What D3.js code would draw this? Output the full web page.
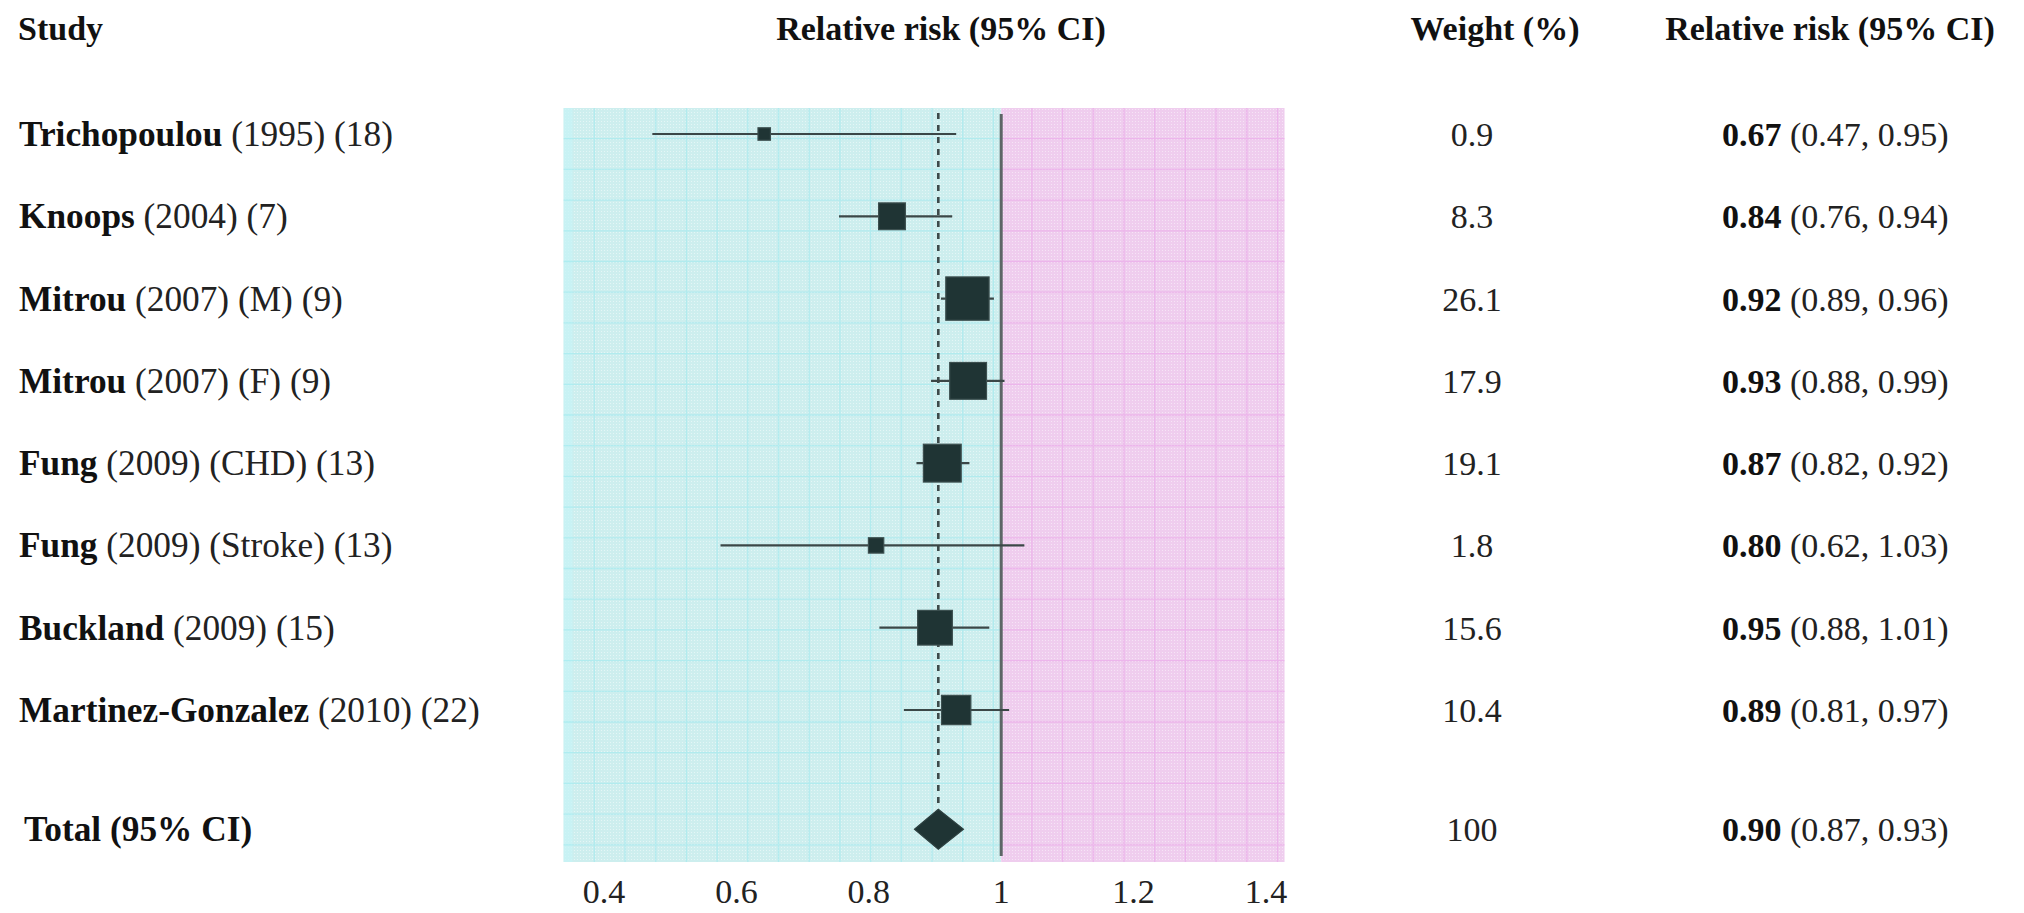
<!DOCTYPE html>
<html><head><meta charset="utf-8">
<script src="https://cdn.jsdelivr.net/npm/d3@7"></script>
<style>html,body{margin:0;padding:0;background:#fff;} svg{display:block;}</style>
</head><body><svg id="chart" width="2024" height="913"></svg>
<script>
// ---- data ----
const studies = ["Trichopoulou","Knoops","Mitrou","Mitrou","Fung","Fung","Buckland","Martinez-Gonzalez"];
const details = ["(1995) (18)","(2004) (7)","(2007) (M) (9)","(2007) (F) (9)","(2009) (CHD) (13)","(2009) (Stroke) (13)","(2009) (15)","(2010) (22)"];
const weights = ["0.9","8.3","26.1","17.9","19.1","1.8","15.6","10.4"];
const rrText = ["0.67","0.84","0.92","0.93","0.87","0.80","0.95","0.89"];
const ciText = ["(0.47, 0.95)","(0.76, 0.94)","(0.89, 0.96)","(0.88, 0.99)","(0.82, 0.92)","(0.62, 1.03)","(0.88, 1.01)","(0.81, 0.97)"];
// marks as drawn in the picture
const est = [0.642,0.835,0.949,0.950,0.911,0.811,0.900,0.932];
const lo  = [0.473,0.755,0.909,0.894,0.872,0.576,0.816,0.853];
const hi  = [0.932,0.926,0.989,1.005,0.952,1.035,0.982,1.012];
const totalLabel = "Total (95% CI)";
const totalWeight = "100";
const totalRR = "0.90";
const totalCI = "(0.87, 0.93)";
const totalEst = 0.905, totalLo = 0.869, totalHi = 0.943;
const xTicks = [0.4,0.6,0.8,1,1.2,1.4];
const xTickLabels = ["0.4","0.6","0.8","1","1.2","1.4"];
const headers = ["Study","Relative risk (95% CI)","Weight (%)","Relative risk (95% CI)"];
const bgDomain = [0.339, 1.428];

// ---- layout ----
const svg = d3.select("#chart");
const FONT = "'Liberation Serif','Times New Roman',serif";
const x = d3.scaleLinear().domain([0.4,1.4]).range([604,1266]);
const y = d3.scaleLinear().domain([0,7]).range([134,710]);
const totalIdx = 8.45;
const size = d3.scaleLinear().domain([0,5]).range([5.4,42.5]);
const yTop = 108, yBot = 862;

// backgrounds
const defs = svg.append("defs");
function halftone(id, color){
  const p = defs.append("pattern").attr("id",id).attr("width",3).attr("height",3).attr("patternUnits","userSpaceOnUse");
  p.append("rect").attr("width",3).attr("height",3).attr("fill",color);
  p.append("rect").attr("x",1).attr("y",1).attr("width",1).attr("height",1).attr("fill","#fff").attr("opacity",0.45);
}
halftone("cy","#cdeeee");
halftone("pk","#efcdee");

const bg = svg.append("g");
bg.append("rect").attr("x",x(bgDomain[0])).attr("y",yTop).attr("width",x(1)-x(bgDomain[0])).attr("height",yBot-yTop).attr("fill","url(#cy)");
bg.append("rect").attr("x",x(bgDomain[0])).attr("y",yTop).attr("width",9).attr("height",yBot-yTop).attr("fill","#c6f4f6").attr("opacity",0.7);
bg.append("rect").attr("x",x(1)).attr("y",yTop).attr("width",x(bgDomain[1])-x(1)).attr("height",yBot-yTop).attr("fill","url(#pk)");

// grid
const step = 30.7;
function grid(x0,x1,color){
  const g = bg.append("g").attr("stroke",color).attr("stroke-width",1.3).attr("opacity",0.5);
  d3.range(x0+step, x1-2, step).forEach(v=>g.append("line").attr("x1",v).attr("x2",v).attr("y1",yTop).attr("y2",yBot));
  d3.range(yTop+step, yBot-2, step).forEach(v=>g.append("line").attr("x1",x0).attr("x2",x1).attr("y1",v).attr("y2",v));
}
grid(x(bgDomain[0]), x(1), "#96e9ef");
grid(x(1), x(bgDomain[1]), "#eb9ee9");

// reference lines
svg.append("line").attr("x1",x(totalEst)).attr("x2",x(totalEst)).attr("y1",113).attr("y2",y(totalIdx)-20)
  .attr("stroke","#3d4a4a").attr("stroke-width",2.6).attr("stroke-dasharray","6,6");
svg.append("line").attr("x1",x(1)).attr("x2",x(1)).attr("y1",114).attr("y2",856)
  .attr("stroke","#5c6666").attr("stroke-width",3);

// CI lines and squares
const rows = d3.range(studies.length);
svg.append("g").selectAll("line").data(rows).join("line")
  .attr("x1",i=>x(lo[i])).attr("x2",i=>x(hi[i])).attr("y1",i=>y(i)).attr("y2",i=>y(i))
  .attr("stroke","#3b4747").attr("stroke-width",2.2);
svg.append("g").selectAll("rect").data(rows).join("rect")
  .attr("x",i=>x(est[i])-size(Math.sqrt(+weights[i]))/2)
  .attr("y",i=>y(i)-size(Math.sqrt(+weights[i]))/2)
  .attr("width",i=>size(Math.sqrt(+weights[i])))
  .attr("height",i=>size(Math.sqrt(+weights[i])))
  .attr("fill","#1f3434").attr("stroke","#3c4f4f").attr("stroke-width",1.2);

// diamond
const ty = y(totalIdx);
svg.append("path")
  .attr("d",`M${x(totalLo)},${ty} L${x(totalEst)},${ty-20} L${x(totalHi)},${ty} L${x(totalEst)},${ty+20} Z`)
  .attr("fill","#1f3434").attr("stroke","#2d4040").attr("stroke-width",1.2);

// x tick labels
svg.append("g").selectAll("text").data(xTicks).join("text")
  .attr("x",d=>x(d)).attr("y",903).attr("text-anchor","middle")
  .attr("font-family",FONT).attr("font-size",34).attr("fill","#222")
  .text((d,i)=>xTickLabels[i]);

// headers
const hx = [18, 941, 1495, 1830];
const ha = ["start","middle","middle","middle"];
svg.append("g").selectAll("text").data(headers).join("text")
  .attr("x",(d,i)=>hx[i]).attr("y",40).attr("text-anchor",(d,i)=>ha[i])
  .attr("font-family",FONT).attr("font-size",34).attr("font-weight","bold").attr("fill","#111")
  .text(d=>d);

// study labels
const lab = svg.append("g").attr("font-family",FONT).attr("font-size",34).attr("fill","#222");
rows.forEach(i=>{
  const t = lab.append("text").attr("x",19).attr("y",y(i)+12).attr("font-size",35.3);
  t.append("tspan").attr("font-weight","bold").attr("fill","#111").text(studies[i]);
  t.append("tspan").text(" "+details[i]);
  lab.append("text").attr("x",1472).attr("y",y(i)+12).attr("text-anchor","middle").text(weights[i]);
  const r = lab.append("text").attr("x",1722).attr("y",y(i)+12);
  r.append("tspan").attr("font-weight","bold").attr("fill","#111").text(rrText[i]);
  r.append("tspan").text(" "+ciText[i]);
});
lab.append("text").attr("x",24).attr("y",ty+12).attr("font-size",35.3).attr("font-weight","bold").attr("fill","#111").text(totalLabel);
lab.append("text").attr("x",1472).attr("y",ty+12).attr("text-anchor","middle").text(totalWeight);
const tr = lab.append("text").attr("x",1722).attr("y",ty+12);
tr.append("tspan").attr("font-weight","bold").attr("fill","#111").text(totalRR);
tr.append("tspan").text(" "+totalCI);
</script>
</body></html>
